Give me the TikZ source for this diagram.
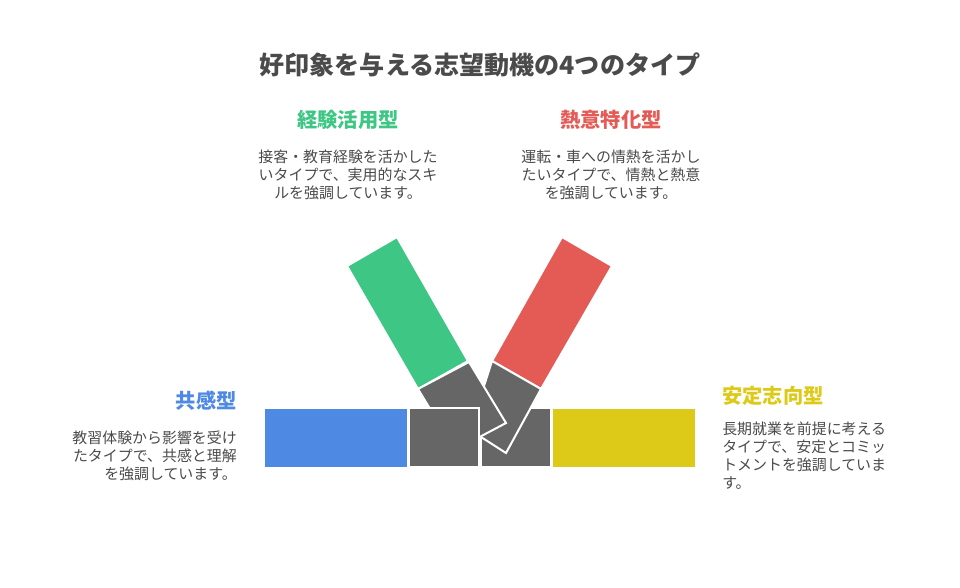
\documentclass[tikz,border=0pt]{standalone}
\usepackage{fontspec}
\setmainfont{Noto Sans CJK JP}
\definecolor{cg}{HTML}{3EC684}
\definecolor{cr}{HTML}{E45A55}
\definecolor{cb}{HTML}{4E89E4}
\definecolor{cy}{HTML}{DDCA18}
\definecolor{gy}{HTML}{666666}
\definecolor{tx}{HTML}{4A4A4A}
\tikzset{
 pc/.style={draw=white,line width=1.5pt},
 hd/.style={font=\fontsize{15.2}{18}\selectfont\bfseries,inner sep=0pt},
 bd/.style={font=\fontsize{11.2}{13.5}\selectfont,text=tx,inner sep=0pt},
}
\begin{document}
\begin{tikzpicture}[x=0.75pt,y=-0.75pt]
\path[use as bounding box] (0,0) rectangle (960,587);
\node[font=\fontsize{18.8}{22}\selectfont\bfseries,text=tx] (title) at (480,65) {好印象を与える志望動機の4つのタイプ};
% bars
\fill[cb] (265,409) rectangle (407,467);
\fill[cy] (553,409) rectangle (695,467);
\fill[gy,pc] (481,408) rectangle (551,467);
\fill[cr,pc] (562,237) -- (612,266) -- (541,389) -- (492,361) -- cycle;
\fill[gy,pc] (492,361) -- (541,389) -- (506,453) -- (481,437) -- (470,430) -- cycle;
\fill[cg,pc] (347,266) -- (397,237) -- (468,361) -- (418,389) -- cycle;
\fill[gy,pc] (418,389) -- (469,362) -- (506,423) -- (455,450) -- cycle;
\fill[gy,pc] (409,408) rectangle (479,467);
% texts
\node[hd,text=cg] (h1) at (348,120) {経験活用型};
\node[bd,align=center] (b1) at (348,175) {接客・教育経験を活かした\\いタイプで、実用的なスキ\\ルを強調しています。};
\node[hd,text=cr] (h2) at (611,120) {熱意特化型};
\node[bd,align=center] (b2) at (611,175) {運転・車への情熱を活かし\\たいタイプで、情熱と熱意\\を強調しています。};
\node[hd,text=cb,anchor=east] (h3) at (237,401) {共感型};
\node[bd,align=right,anchor=east] (b3) at (237,456) {教習体験から影響を受け\\たタイプで、共感と理解\\を強調しています。};
\node[hd,text=cy,anchor=west] (h4) at (722,396) {安定志向型};
\node[bd,align=left,anchor=west] (b4) at (722,456) {長期就業を前提に考える\\タイプで、安定とコミッ\\トメントを強調していま\\す。};
\end{tikzpicture}
\end{document}
